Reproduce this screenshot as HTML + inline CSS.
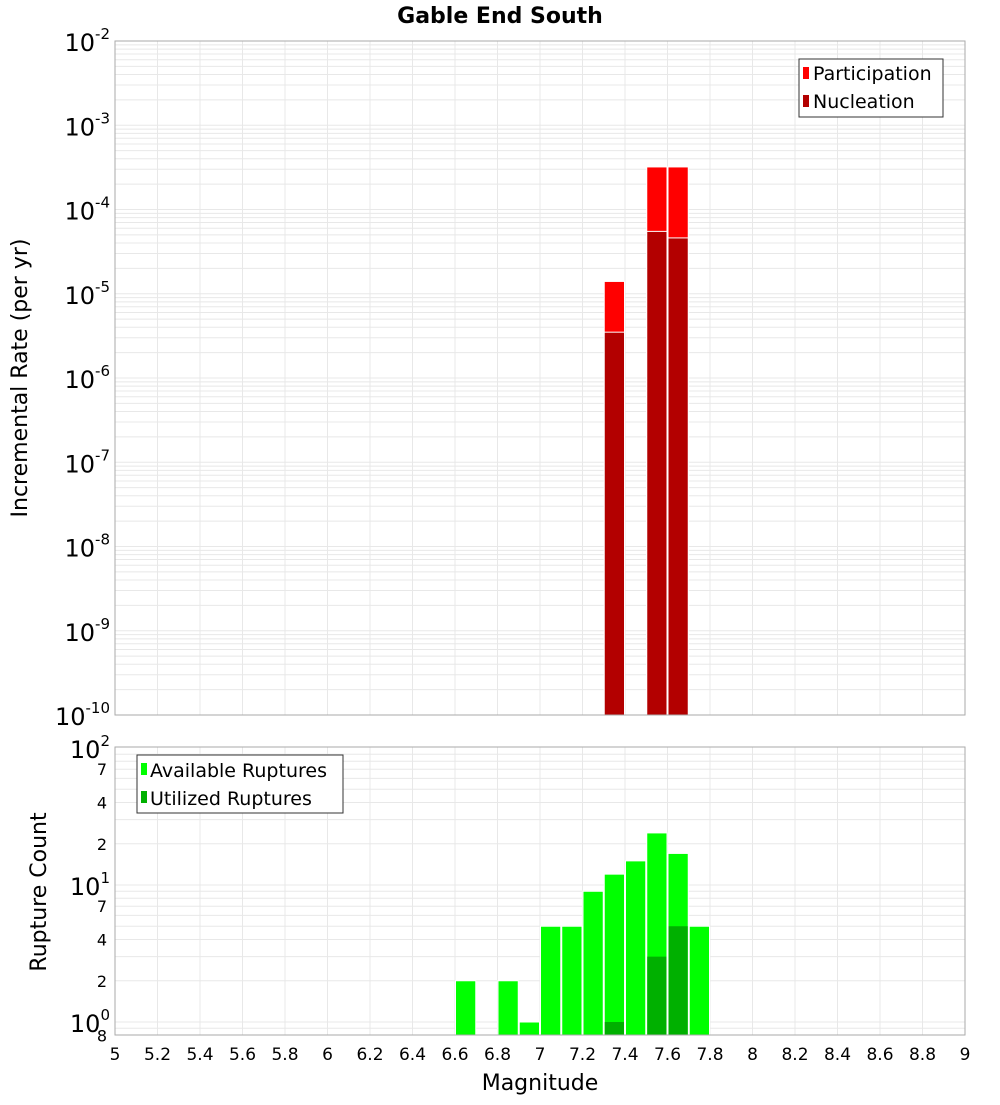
<!DOCTYPE html>
<html><head><meta charset="utf-8"><style>
body{margin:0;background:#fff;width:1000px;height:1100px;overflow:hidden}
svg text{font-family:"DejaVu Sans","Liberation Sans",sans-serif}
</style></head><body>
<svg id="c" width="1000" height="1100" xmlns="http://www.w3.org/2000/svg">
<text x="500" y="23" text-anchor="middle" font-size="22" font-weight="bold">Gable End South</text>
<g id="gtop"></g><g id="gbot"></g>
<text transform="translate(27,378) rotate(-90)" text-anchor="middle" font-size="22">Incremental Rate (per yr)</text>
<text transform="translate(46,892) rotate(-90)" text-anchor="middle" font-size="22">Rupture Count</text>
<text x="540" y="1090" text-anchor="middle" font-size="22">Magnitude</text>
<g>
<rect x="799" y="59" width="144" height="58" fill="#fff" stroke="#333"/>
<rect x="803" y="67" width="6" height="12" fill="#ff0000"/><text x="813" y="80" font-size="19">Participation</text>
<rect x="803" y="95" width="6" height="12" fill="#b30000"/><text x="813" y="108" font-size="19">Nucleation</text>
</g>
<g>
<rect x="137" y="755" width="206" height="58" fill="#fff" stroke="#333"/>
<rect x="141" y="763" width="6" height="12" fill="#00ff00"/><text x="150" y="777" font-size="19">Available Ruptures</text>
<rect x="141" y="791" width="6" height="12" fill="#00b000"/><text x="150" y="805" font-size="19">Utilized Ruptures</text>
</g>
</svg>
<script>
const mags=[7.35,7.55,7.65];
const participation=[1.4e-5,3.2e-4,3.2e-4];
const nucleation=[3.5e-6,5.5e-5,4.6e-5];
const countMags=[6.65,6.85,6.95,7.05,7.15,7.25,7.35,7.45,7.55,7.65,7.75];
const available=[2,2,1,5,5,9,12,15,24,17,5];
const utilizedMags=[7.35,7.55,7.65];
const utilized=[1,3,5];
const xTicks=['5','5.2','5.4','5.6','5.8','6','6.2','6.4','6.6','6.8','7','7.2','7.4','7.6','7.8','8','8.2','8.4','8.6','8.8','9'];
const NS='http://www.w3.org/2000/svg';
const L=115,R=965;
const x=m=>L+(m-5)/4*(R-L);
const T0=41,T1=715, yT=v=>T1-(Math.log10(v)+10)/8*(T1-T0);
const B0=747,B1=1035, yB=v=>1022-137*Math.log10(v);
function mk(p,t,a){const e=document.createElementNS(NS,t);for(const k in a)e.setAttribute(k,a[k]);p.appendChild(e);return e;}
const gTop=document.getElementById('gtop'),gBot=document.getElementById('gbot');
for(let d=-10;d<-2;d++)for(let k=1;k<10;k++){const y=yT(k*Math.pow(10,d));if(y<T0||y>T1)continue;
 const l=mk(gTop,'line',{x1:L,x2:R,y1:y,y2:y,stroke:'#e8e8e8'});
 
 }
for(let d=-1;d<2;d++)for(let k=1;k<10;k++){const y=yB(k*Math.pow(10,d));if(y<B0||y>B1)continue;
 const l=mk(gBot,'line',{x1:L,x2:R,y1:y,y2:y,stroke:'#e8e8e8'});
 
 }
xTicks.forEach((t)=>{const xx=x(+t);
 const a=mk(gTop,'line',{x1:xx,x2:xx,y1:T0,y2:T1,stroke:'#e8e8e8'});
 
 
 const b=mk(gBot,'line',{x1:xx,x2:xx,y1:B0,y2:B1,stroke:'#e8e8e8'});
 
 
 const tx=mk(gBot,'text',{x:xx,y:1060,'text-anchor':'middle','font-size':17});tx.textContent=t;
 
 });
for(let d=-10;d<=-2;d++){const y=yT(Math.pow(10,d));
 const g=mk(gTop,'text',{x:110,y:y+10,'text-anchor':'end','font-size':24});
 
 
 g.innerHTML='10<tspan dy="-12" font-size="15">'+d+'</tspan>';}
[2,1,0].forEach((d)=>{const y=yB(Math.pow(10,d));
 const g=mk(gBot,'text',{x:110,y:y+10,'text-anchor':'end','font-size':24});
 
 
 g.innerHTML='10<tspan dy="-12" font-size="15">'+d+'</tspan>';});
[[70,'7'],[40,'4'],[20,'2'],[7,'7'],[4,'4'],[2,'2'],[0.8,'8']].forEach(([v,t])=>{const y=yB(v);
 const g=mk(gBot,'text',{x:107,y:y+6,'text-anchor':'end','font-size':16});g.textContent=t;
 
 });
const w=x(5.1)-x(5);
mags.forEach((m,i)=>{
 let r=mk(gTop,'rect',{x:x(m)-w/2+0.5,y:yT(participation[i]),width:w-1,height:T1-yT(participation[i]),fill:'#ff0000',stroke:'#fff','stroke-width':1});
 
 
 r=mk(gTop,'rect',{x:x(m)-w/2+0.5,y:yT(nucleation[i]),width:w-1,height:T1-yT(nucleation[i]),fill:'#b30000',stroke:'#fff','stroke-width':1});
 
 });
countMags.forEach((m,i)=>{
 const r=mk(gBot,'rect',{x:x(m)-w/2+0.5,y:yB(available[i]),width:w-1,height:B1-yB(available[i]),fill:'#00ff00',stroke:'#fff','stroke-width':1});
 
 });
utilizedMags.forEach((m,i)=>{
 const r=mk(gBot,'rect',{x:x(m)-w/2+1,y:yB(utilized[i]),width:w-2,height:B1-yB(utilized[i]),fill:'#00b000'});
 
 });
let f=mk(gTop,'rect',{x:L,y:T0,width:R-L,height:T1-T0,fill:'none',stroke:'#aaa'});


f=mk(gBot,'rect',{x:L,y:B0,width:R-L,height:B1-B0,fill:'none',stroke:'#aaa'});


</script>
</body></html>
